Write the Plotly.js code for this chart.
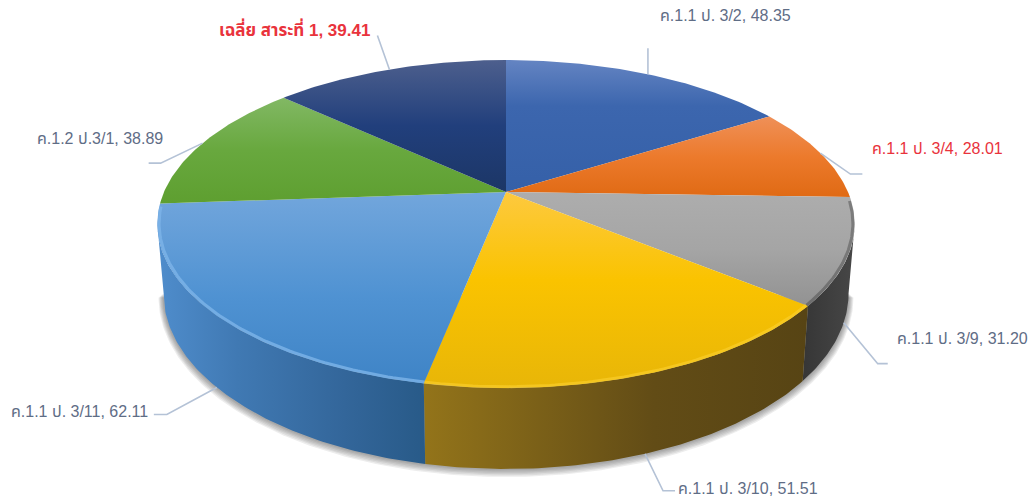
<!DOCTYPE html>
<html><head><meta charset="utf-8">
<script src="https://cdn.plot.ly/plotly-3.0.1.min.js"></script>
<style>html,body{margin:0;padding:0;background:#fff}#c{width:1031px;height:501px}</style>
</head><body><div id="c"></div>
<script>
const categories = ["ค.1.1 ป. 3/2","ค.1.1 ป. 3/4","ค.1.1 ป. 3/9","ค.1.1 ป. 3/10","ค.1.1 ป. 3/11","ค.1.2 ป.3/1","เฉลี่ย สาระที่ 1"];
const values = [48.35,28.01,31.20,51.51,62.11,38.89,39.41];
const valueText = ["48.35","28.01","31.20","51.51","62.11","38.89","39.41"];

// styling (position 0 = bottom of the slice, 1 = top of the slice)
const topColors = [
  [[0,'#3560a8'],[0.65,'#3c66ae'],[1,'#6484c2']],
  [[0,'#e06a14'],[0.5,'#ec7a2c'],[1,'#ef9058']],
  [[0,'#929292'],[0.5,'#a5a5a5'],[1,'#adadad']],
  [[0,'#e8b608'],[0.55,'#fac300'],[1,'#fdc93f']],
  [[0,'#3f84c6'],[0.45,'#4f92d2'],[1,'#72a6dc']],
  [[0,'#5e9f30'],[0.5,'#68a83e'],[1,'#82b864']],
  [[0,'#1c3666'],[0.5,'#213f7c'],[1,'#4d5f8d']]
];
const sideColors = [null,null,
  [[0,'#363636'],[1,'#474747']],
  [[0,'#93741a'],[0.6,'#624c16'],[1,'#574414']],
  [[0,'#4f8dcc'],[0.3,'#4079b3'],[0.7,'#33669a'],[1,'#285a88']],
  null,null];
const rimColors = [null,null,'rgba(55,55,55,0.4)','rgba(252,208,48,0.6)','rgba(125,180,232,0.8)',null,null];
const labelColors = ['#5f6d86','#e9333c','#5f6d86','#5f6d86','#5f6d86','#5f6d86','#e9333c'];
const labelBold = [false,false,false,false,false,false,true];
const labelSizes = [16,16,16,16,16,16,17];
const labelFont = '"Liberation Sans","Noto Sans","Noto Sans Thai",Arial,sans-serif';
// leader geometry: knee and end offset relative to anchor, label position
const leaders = [
  {kx:0,ky:-26,ex:0,ey:-26,lx:658,ly:15,rim:'top'},
  {kx:30,ky:21,ex:42,ey:21,lx:870,ly:148,rim:'top'},
  {kx:34,ky:41,ex:44,ey:41,lx:895,ly:338,rim:'bot'},
  {kx:18,ky:37,ex:30,ey:37,lx:676,ly:488,rim:'bot'},
  {kx:-50,ky:27,ex:-63,ey:27,lx:9,ly:411,rim:'bot'},
  {kx:-42,ky:20,ex:-54,ey:20,lx:35,ly:138,rim:'top'},
  {kx:-12,ky:-34,ex:-12,ey:-34,lx:217,ly:29,rim:'top'}
];
// projection of the disc
const cx=506, k=0.195;
const discTop={cy:192,R:342,D:157.7};
const discBot={cy:259,R:336,D:169};
function proj(d,deg,f){ f=f===undefined?1:f;
  const t=deg*Math.PI/180,a=Math.sin(t)*f,b=Math.cos(t)*f,s=1/(1+k*b);
  return [cx+d.R*a*s,d.cy-d.D*b*s];
}
function arc(d,from,to,f){
  const n=Math.max(2,Math.ceil(Math.abs(to-from)/0.75)),xs=[],ys=[];
  for(let i=0;i<=n;i++){const p=proj(d,from+(to-from)*i/n,f);xs.push(p[0]);ys.push(p[1]);}
  return [xs,ys];
}
const total=values.reduce((a,b)=>a+b,0);
let acc=0;
const angles=values.map(v=>{const s=acc;acc+=v/total*360;return [s,acc];});
const traces=[];
const hidden={showlegend:false,hoverinfo:'skip',mode:'lines'};
const tanA=Math.acos(-k)*180/Math.PI, tanB=360-tanA;

// soft ground shadow
for(let i=6;i>=1;i--){
  const p=arc({cy:discBot.cy+i*0.6,R:discBot.R+i*0.8,D:discBot.D+i*0.6},tanA,tanB);
  traces.push({...hidden,x:p[0],y:p[1],fill:'toself',fillcolor:'rgba(60,60,60,0.09)',line:{width:0}});
}
// side walls
angles.forEach((g,i)=>{
  if(!sideColors[i])return;
  const from=Math.max(g[0],tanA),to=Math.min(g[1],tanB);
  if(to<=from)return;
  const t=arc(discTop,from,to);
  const b=arc(discBot,to,from);
  traces.push({...hidden,x:t[0].concat(b[0]),y:t[1].concat(b[1]),fill:'toself',line:{width:0},
    fillgradient:{type:'horizontal',colorscale:sideColors[i]}});
});
// top faces
angles.forEach((g,i)=>{
  const t=arc(discTop,g[0],g[1]);
  const x=[cx].concat(t[0],[cx]),y=[discTop.cy].concat(t[1],[discTop.cy]);
  traces.push({...hidden,x:x,y:y,fill:'toself',line:{width:0},
    fillgradient:{type:'vertical',colorscale:topColors[i]}});
});
// bevelled rim
angles.forEach((g,i)=>{
  if(!rimColors[i])return;
  const t=arc(discTop,Math.max(g[0],tanA-8),Math.min(g[1],tanB+6),0.995);
  traces.push({...hidden,x:t[0],y:t[1],line:{color:rimColors[i],width:3}});
});
// leaders
const annotations=[];
angles.forEach((g,i)=>{
  const L=leaders[i],p=proj(L.rim==='top'?discTop:discBot,(g[0]+g[1])/2);
  traces.push({...hidden,x:[p[0],p[0]+L.kx,p[0]+L.ex],y:[p[1],p[1]+L.ky,p[1]+L.ey],
    line:{color:'#b4c2d6',width:1.6}});
  annotations.push({xref:'x',yref:'y',x:L.lx,y:L.ly,xanchor:'left',yanchor:'middle',showarrow:false,
    text:(labelBold[i]?'<b>':'')+categories[i]+', '+valueText[i]+(labelBold[i]?'</b>':''),
    font:{family:labelFont,size:labelSizes[i],color:labelColors[i]}});
});
const layout={width:1031,height:501,margin:{l:0,r:0,t:0,b:0},paper_bgcolor:'#fff',plot_bgcolor:'#fff',showlegend:false,
  xaxis:{range:[0,1031],visible:false,fixedrange:true},
  yaxis:{range:[501,0],visible:false,fixedrange:true},annotations:annotations};
Plotly.newPlot('c',traces,layout,{displayModeBar:false,staticPlot:true});
</script></body></html>
